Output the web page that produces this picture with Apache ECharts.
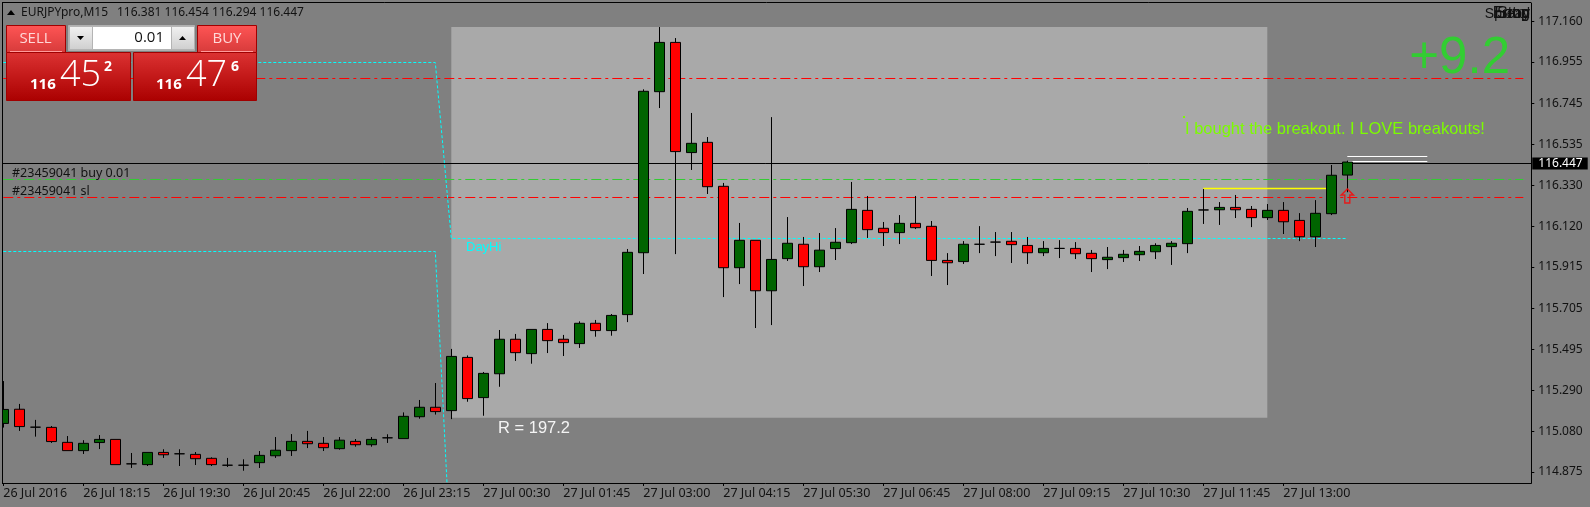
<!DOCTYPE html>
<html>
<head>
<meta charset="utf-8">
<title>EURJPYpro,M15</title>
<style>
html, body { margin: 0; padding: 0; background: #808080; }
#chart { width: 1590px; height: 507px; }
</style>
<script src="https://cdn.jsdelivr.net/npm/echarts@6/dist/echarts.min.js"></script>
</head>
<body>
<div id="chart"></div>
<script>
// candles, oldest first
var opens = [
  115.121, 115.193, 115.102, 115.101, 115.025, 114.983, 115.024, 115.040, 114.916, 114.912,
  114.974, 114.967, 114.964, 114.944, 114.909, 114.909, 114.922, 114.957, 114.983, 115.030,
  115.020, 114.993, 115.030, 115.013, 115.048, 115.044, 115.155, 115.203, 115.186, 115.456,
  115.252, 115.373, 115.548, 115.475, 115.598, 115.548, 115.526, 115.629, 115.592, 115.673,
  115.987, 116.804, 117.054, 116.495, 116.547, 116.324, 115.911, 116.050, 115.794, 115.957,
  116.030, 115.916, 116.008, 116.038, 116.202, 116.111, 116.089, 116.136, 116.121, 115.948,
  115.942, 116.030, 116.041, 116.045, 116.024, 115.987, 116.009, 116.009, 115.984, 115.952,
  115.962, 115.977, 115.992, 116.018, 116.033, 116.204, 116.205, 116.217, 116.207, 116.165,
  116.202, 116.151, 116.068, 116.185, 116.381
];
var closes = [
  115.192, 115.105, 115.102, 115.029, 114.983, 115.020, 115.040, 114.912, 114.916, 114.974,
  114.962, 114.967, 114.942, 114.912, 114.909, 114.909, 114.959, 114.985, 115.030, 115.018,
  114.998, 115.036, 115.013, 115.040, 115.048, 115.157, 115.203, 115.181, 115.461, 115.247,
  115.375, 115.548, 115.480, 115.598, 115.541, 115.531, 115.629, 115.592, 115.669, 115.989,
  116.806, 117.054, 116.500, 116.542, 116.322, 115.911, 116.050, 115.794, 115.953, 116.035,
  115.916, 116.000, 116.040, 116.207, 116.104, 116.089, 116.136, 116.114, 115.948, 115.936,
  116.030, 116.030, 116.041, 116.028, 115.987, 116.009, 116.009, 115.982, 115.957, 115.964,
  115.979, 115.994, 116.024, 116.035, 116.197, 116.204, 116.217, 116.205, 116.165, 116.202,
  116.144, 116.068, 116.187, 116.380, 116.447
];
var lows = [
  115.100, 115.083, 115.054, 115.022, 114.983, 114.966, 114.991, 114.912, 114.895, 114.905,
  114.946, 114.905, 114.910, 114.905, 114.900, 114.881, 114.895, 114.946, 114.956, 114.996,
  114.981, 114.988, 115.003, 115.003, 115.022, 115.044, 115.145, 115.166, 115.143, 115.231,
  115.160, 115.307, 115.438, 115.424, 115.478, 115.463, 115.504, 115.561, 115.566, 115.635,
  115.879, 116.721, 115.980, 116.407, 116.285, 115.762, 115.828, 115.605, 115.620, 115.945,
  115.818, 115.889, 115.950, 116.031, 116.062, 116.021, 116.031, 116.107, 115.869, 115.823,
  115.930, 115.985, 115.970, 115.935, 115.930, 115.970, 115.960, 115.955, 115.889, 115.904,
  115.940, 115.945, 115.955, 115.925, 115.985, 116.133, 116.128, 116.163, 116.117, 116.153,
  116.082, 116.046, 116.016, 116.178, 116.294
];
var highs = [
  115.336, 115.220, 115.139, 115.108, 115.057, 115.036, 115.062, 115.040, 114.971, 114.974,
  114.990, 114.990, 114.976, 114.949, 114.946, 114.939, 114.981, 115.052, 115.067, 115.083,
  115.052, 115.052, 115.042, 115.052, 115.066, 115.177, 115.240, 115.326, 115.499, 115.466,
  115.382, 115.595, 115.575, 115.598, 115.630, 115.570, 115.639, 115.646, 115.676, 116.006,
  116.816, 117.132, 117.076, 116.696, 116.574, 116.341, 116.138, 116.050, 116.675, 116.168,
  116.067, 116.087, 116.112, 116.346, 116.275, 116.143, 116.178, 116.275, 116.148, 115.985,
  116.046, 116.122, 116.092, 116.092, 116.067, 116.046, 116.051, 116.041, 116.001, 116.016,
  116.001, 116.021, 116.035, 116.046, 116.214, 116.310, 116.244, 116.280, 116.224, 116.234,
  116.244, 116.188, 116.254, 116.432, 116.454
];

// one label every 5 bars
var timeLabels = [
  '26 Jul 2016', '26 Jul 18:15', '26 Jul 19:30', '26 Jul 20:45', '26 Jul 22:00', '26 Jul 23:15',
  '27 Jul 00:30', '27 Jul 01:45', '27 Jul 03:00', '27 Jul 04:15', '27 Jul 05:30', '27 Jul 06:45',
  '27 Jul 08:00', '27 Jul 09:15', '27 Jul 10:30', '27 Jul 11:45', '27 Jul 13:00'
];
var priceTicks = [
  117.160, 116.955, 116.745, 116.535, 116.330, 116.120,
  115.915, 115.705, 115.495, 115.290, 115.080, 114.875
];

// [bar index, price] points of the drawn objects
var dayHiPoints = [[0, 116.9520], [27, 116.9520], [28, 116.0592], [84, 116.0592]];
var dayLoPoints = [[0, 115.9932], [27, 115.9932], [28, 114.388]];
var topRedPoints = [[0, 116.8709], [95, 116.8709]];
var buyLinePoints = [[0, 116.3585], [95, 116.3585]];
var slLinePoints = [[0, 116.2672], [95, 116.2672]];
var yellowPoints = [[75, 116.3128], [83, 116.3128]];
var whiteTopPoints = [[84, 116.4752], [89, 116.4752]];
var whiteLowPoints = [[84, 116.4498], [89, 116.4498]];
var arrowPoints = [[84, 116.275]];
var boxBars = [28, 79];
var boxPrices = [117.132, 115.150];
var bidLine = 116.4447;
var bidLabel = '116.447';

var BAR_SLOTS = 96;
var categories = [];
for (var i = 0; i < BAR_SLOTS; i++) {
  categories.push(i % 5 === 0 && timeLabels[i / 5] ? timeLabels[i / 5] : '');
}
var candles = [];
for (var j = 0; j < opens.length; j++) {
  candles.push([opens[j], closes[j], lows[j], highs[j]]);
}

function isLabelled(index) {
  return index % 5 === 0 && index <= 80;
}

function lineSeries(points, color, width, dash) {
  return {
    type: 'line',
    data: points,
    z: 2,
    silent: true,
    animation: false,
    showSymbol: false,
    symbol: 'none',
    lineStyle: { color: color, width: width, type: dash || 'solid' }
  };
}

function vGrad(top, bottom) {
  return new echarts.graphic.LinearGradient(0, 0, 0, 1, [
    { offset: 0, color: top }, { offset: 1, color: bottom }
  ]);
}
function box(x, y, w, h, fill, stroke) {
  return {
    type: 'rect', z: 100, silent: true,
    shape: { x: x, y: y, width: w, height: h },
    style: { fill: fill, stroke: stroke || null, lineWidth: stroke ? 1 : 0 }
  };
}
function label(str, x, y, font, color, align) {
  return {
    type: 'text', z: 101, silent: true, x: x, y: y,
    style: { text: str, font: font, fill: color, align: align || 'left', verticalAlign: 'middle' }
  };
}
function tri(points, color) {
  return { type: 'polygon', z: 101, silent: true, shape: { points: points }, style: { fill: color } };
}
function hline(x1, x2, y, color) {
  return {
    type: 'line', z: 101, silent: true,
    shape: { x1: x1, y1: y, x2: x2, y2: y },
    style: { stroke: color, lineWidth: 1 }
  };
}

var UI = '"Noto Sans"';
var ARIAL = '"Liberation Sans"';
var PANEL = '"Open Sans"';

var overlay = [
  // left margin and frame
  box(0, 0, 2, 484, '#808080'),
  hline(2, 1531, 2.5, '#000'),
  { type: 'line', z: 101, silent: true, shape: { x1: 2.5, y1: 2, x2: 2.5, y2: 484 }, style: { stroke: '#000', lineWidth: 1 } },

  // header
  tri([[7, 15], [15, 15], [11, 10]], '#000'),
  label('EURJPYpro,M15', 21, 13, '12px ' + UI, '#111'),
  label('116.381 116.454 116.294 116.447', 117, 13, '12px ' + UI, '#111'),

  // trade panel
  box(6.5, 25.5, 59, 27, vGrad('#ff5555', '#d63a3a'), '#a00000'),
  box(197.5, 25.5, 59, 27, vGrad('#ff5555', '#d63a3a'), '#a00000'),
  box(6.5, 52.5, 124, 48, vGrad('#dc3232', '#aa0000'), '#a00000'),
  box(133.5, 52.5, 123, 48, vGrad('#dc3232', '#aa0000'), '#a00000'),
  hline(10, 62, 51.5, '#ff9a9a'),
  hline(201, 253, 51.5, '#ff9a9a'),
  box(66, 25, 131, 27, '#808080'),
  box(68.5, 25.5, 126, 25, '#b4b4b4', '#b0b0b0'),
  box(70, 27, 22, 22, vGrad('#f0f0f0', '#d0d0d0')),
  box(172, 27, 22, 22, vGrad('#f0f0f0', '#d0d0d0')),
  box(93, 27, 78, 22, '#ffffff'),
  tri([[77, 36], [84, 36], [80.5, 40]], '#000'),
  tri([[179, 40], [186, 40], [182.5, 36]], '#000'),
  label('0.01', 164, 38, '15px ' + PANEL, '#111', 'right'),
  label('SELL', 35.5, 39, '15px ' + PANEL, '#ffd8d8', 'center'),
  label('BUY', 227, 39, '15px ' + PANEL, '#ffd8d8', 'center'),
  label('116', 30, 85, 'bold 15px ' + PANEL, '#fff'),
  label('45', 60, 76, '300 36px ' + PANEL, '#fff'),
  label('2', 104, 67, 'bold 14px ' + PANEL, '#fff'),
  label('116', 156, 85, 'bold 15px ' + PANEL, '#fff'),
  label('47', 186, 76, '300 36px ' + PANEL, '#fff'),
  label('6', 231, 67, 'bold 14px ' + PANEL, '#fff'),

  // order lines text
  label('#23459041 buy 0.01', 12, 173, '12.5px ' + UI, '#111'),
  label('#23459041 sl', 12, 191, '12.5px ' + UI, '#111'),
  label('DayHi', 466, 247, '13px ' + ARIAL, '#00ffff'),
  label('R = 197.2', 498, 428, '16.5px ' + ARIAL, '#f4f4f4'),

  // notes top right
  label('Stop', 1530, 14, '16px ' + ARIAL, '#111', 'right'),
  label('Entry', 1530, 14, '16px ' + ARIAL, '#111', 'right'),
  label('Long', 1530, 14, '16px ' + ARIAL, '#111', 'right'),
  label('Spread', 1530, 14, '14px ' + ARIAL, '#111', 'right'),
  label('+9.2', 1510, 59, '51px ' + ARIAL, '#32cd32', 'right'),
  box(1183, 116, 2, 2, '#7cfc00'),
  label('I bought the breakout. I LOVE breakouts!', 1185, 129, '16.5px ' + ARIAL, '#7cfc00')
];

var chart = echarts.init(document.getElementById('chart'));
chart.setOption({
  backgroundColor: '#808080',
  animation: false,
  grid: { left: -4.7, width: 1536, top: 3, height: 480, outerBoundsMode: 'none' },
  xAxis: {
    type: 'category',
    data: categories,
    boundaryGap: true,
    axisLine: { lineStyle: { color: '#000', width: 1 } },
    axisTick: { show: true, alignWithLabel: true, length: 3, interval: isLabelled, lineStyle: { color: '#000' } },
    axisLabel: {
      interval: isLabelled,
      align: 'left',
      margin: 4,
      hideOverlap: false,
      showMinLabel: true,
      color: '#111',
      fontFamily: 'Noto Sans',
      fontSize: 12.5
    },
    splitLine: { show: false }
  },
  yAxis: {
    type: 'value',
    position: 'right',
    min: 114.8188,
    max: 117.2539,
    scale: true,
    axisLine: { show: true, lineStyle: { color: '#000', width: 1 } },
    axisTick: { show: true, length: 3, customValues: priceTicks, lineStyle: { color: '#000' } },
    axisLabel: {
      customValues: priceTicks,
      margin: 7,
      padding: [2, 0, 0, 0],
      color: '#111',
      fontFamily: 'Noto Sans',
      fontSize: 12,
      formatter: function (v) { return v.toFixed(3); }
    },
    splitLine: { show: false }
  },
  series: [
    {
      // the grey box and the bid line
      type: 'line',
      data: [],
      z: 1,
      silent: true,
      markArea: {
        silent: true,
        z: 0,
        itemStyle: { color: '#a9a9a9' },
        data: [[
          { xAxis: boxBars[0], yAxis: boxPrices[0] },
          { xAxis: boxBars[1], yAxis: boxPrices[1] }
        ]]
      },
      markLine: {
        silent: true,
        z: 2,
        symbol: 'none',
        animation: false,
        lineStyle: { color: '#000', width: 1, type: 'solid' },
        label: {
          show: true,
          position: 'end',
          distance: 1,
          formatter: bidLabel,
          color: '#fff',
          backgroundColor: '#000',
          fontFamily: 'Noto Sans',
          fontSize: 12,
          padding: [0, 5, 0, 6]
        },
        data: [{ yAxis: bidLine }]
      }
    },
    lineSeries(topRedPoints, '#ff0000', 1, [10, 4, 3, 4]),
    lineSeries(buyLinePoints, '#32cd32', 1, [10, 4, 3, 4]),
    lineSeries(slLinePoints, '#ff0000', 1, [10, 4, 3, 4]),
    lineSeries(dayHiPoints, '#00ffff', 1, [3, 2]),
    lineSeries(dayLoPoints, '#00ffff', 1, [3, 2]),
    lineSeries(yellowPoints, '#ffff00', 1.5),
    lineSeries(whiteTopPoints, '#ffffff', 1),
    lineSeries(whiteLowPoints, '#ffffff', 1),
    {
      type: 'candlestick',
      data: candles,
      z: 3,
      barWidth: 11,
      silent: true,
      itemStyle: {
        color: '#006400',
        color0: '#ff0000',
        borderColor: '#000',
        borderColor0: '#000',
        borderColorDoji: '#000',
        borderWidth: 1
      }
    },
    {
      type: 'scatter',
      data: arrowPoints,
      z: 4,
      silent: true,
      symbol: 'path://M6 0 L12 6 L8.5 6 L8.5 14 L3.5 14 L3.5 6 L0 6 Z',
      symbolSize: [12, 14],
      itemStyle: { color: 'rgba(0,0,0,0)', borderColor: '#ff0000', borderWidth: 1.5 }
    }
  ],
  graphic: { elements: overlay }
});
</script>
</body>
</html>
